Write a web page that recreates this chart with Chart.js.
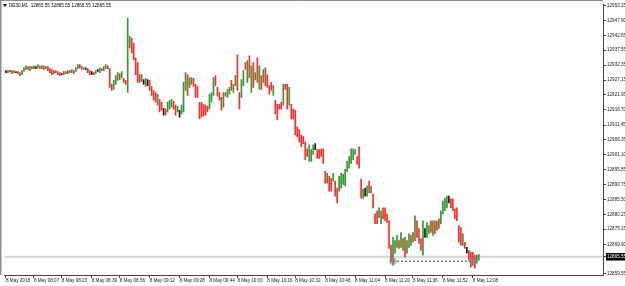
<!DOCTYPE html>
<html><head><meta charset="utf-8">
<script src="https://cdn.jsdelivr.net/npm/chart.js@4/dist/chart.umd.min.js"></script>
<style>html,body{margin:0;padding:0;background:#fff;overflow:hidden}canvas{display:block}</style>
</head><body>
<canvas id="c" width="625" height="286"></canvas>
<script>
const headerText = 'DE30,M1  12865.55 12865.55 12865.55 12865.55';
const bidPrice = 12865.55;

const opens = [
12930.1,12930.2,12930.2,12930.2,12929.9,12929.9,12930.0,12929.5,12929.2,12930.3,
12931.0,12931.6,12930.7,12931.6,12931.3,12931.5,12931.6,12931.9,12931.3,12931.9,
12931.2,12931.6,12930.9,12930.5,12930.2,12929.8,12929.9,12929.5,12929.2,12929.2,
12929.9,12929.6,12930.2,12929.9,12930.2,12930.3,12931.3,12932.3,12931.6,12930.9,
12931.1,12930.9,12930.2,12929.5,12929.6,12929.6,12930.4,12929.9,12931.0,12930.6,
12931.3,12931.9,12930.9,12925.2,12924.2,12925.9,12927.3,12929.0,12928.3,12927.3,
12926.6,12923.2,12938.6,12941.5,12939.6,12934.5,12932.8,12928.7,12926.9,12926.5,
12925.2,12926.3,12926.6,12924.6,12923.2,12922.5,12918.7,12920.1,12919.1,12916.1,
12916.6,12916.3,12917.3,12918.0,12919.4,12918.0,12916.3,12915.4,12915.6,12916.3,
12923.9,12928.7,12924.9,12925.9,12927.3,12925.2,12924.6,12919.1,12919.1,12918.4,
12918.0,12917.7,12917.3,12919.7,12922.2,12928.3,12924.2,12922.5,12920.8,12918.0,
12922.5,12921.5,12922.5,12926.6,12923.2,12925.6,12928.0,12922.5,12921.5,12925.6,
12932.8,12926.6,12935.2,12923.2,12932.8,12927.7,12934.5,12924.2,12928.3,12926.6,
12931.1,12928.7,12924.9,12925.9,12922.2,12919.7,12918.4,12918.4,12919.1,12918.7,
12925.2,12925.2,12918.7,12918.4,12916.6,12916.3,12910.5,12909.4,12907.7,12907.0,
12905.3,12902.9,12899.1,12899.1,12901.5,12903.9,12902.5,12902.5,12902.9,12902.9,
12894.9,12891.6,12893.2,12892.6,12892.2,12891.6,12889.1,12888.8,12889.8,12891.2,
12890.5,12895.6,12896.7,12898.4,12899.8,12901.5,12900.1,12903.5,12892.2,12886.4,
12888.1,12887.0,12891.6,12888.1,12887.0,12880.2,12881.2,12879.5,12877.4,12882.2,
12882.2,12880.2,12877.7,12869.1,12863.0,12867.1,12869.1,12870.9,12869.1,12868.1,
12871.9,12867.1,12869.1,12869.8,12873.6,12871.6,12877.7,12875.0,12871.6,12866.4,
12873.9,12872.6,12874.0,12877.7,12873.3,12877.7,12875.0,12878.5,12877.4,12880.9,
12881.9,12882.9,12885.5,12885.3,12885.3,12881.9,12882.2,12876.1,12875.4,12869.8,
12870.2,12867.8,12867.4,12866.8,12866.8,12865.8,12863.7,12864.7];

const highs = [
12930.4,12930.4,12930.4,12930.4,12930.4,12930.1,12930.1,12929.7,12930.4,12931.4,
12932.1,12931.8,12931.8,12931.8,12932.1,12931.8,12932.5,12932.1,12932.1,12932.1,
12931.8,12931.8,12931.1,12930.8,12930.4,12930.4,12930.1,12929.7,12929.4,12930.1,
12930.1,12930.4,12930.4,12930.8,12930.4,12931.4,12932.5,12932.5,12931.8,12931.4,
12931.4,12931.1,12930.4,12930.1,12929.7,12930.4,12930.8,12931.4,12931.1,12931.8,
12932.5,12932.1,12931.1,12925.6,12927.0,12928.7,12929.7,12929.4,12930.1,12927.7,
12927.0,12948.6,12942.4,12941.8,12940.0,12934.9,12933.2,12929.0,12929.0,12927.3,
12927.7,12927.3,12927.0,12924.9,12923.5,12922.8,12922.2,12920.4,12919.4,12917.3,
12917.0,12919.4,12920.1,12920.4,12919.7,12918.4,12918.0,12916.6,12918.4,12926.3,
12929.7,12929.0,12928.0,12928.0,12927.7,12925.6,12924.9,12919.4,12919.4,12918.7,
12918.4,12918.0,12922.2,12922.8,12928.0,12928.7,12924.6,12922.8,12921.1,12922.8,
12922.8,12923.9,12924.6,12927.0,12925.6,12928.7,12935.9,12922.8,12927.3,12930.4,
12933.2,12933.9,12935.6,12932.1,12933.2,12929.7,12934.9,12932.1,12928.7,12930.8,
12931.4,12929.0,12925.2,12926.3,12925.2,12920.1,12918.7,12918.7,12919.4,12925.6,
12925.6,12925.6,12924.6,12918.7,12917.0,12916.6,12910.8,12909.8,12908.0,12907.4,
12905.6,12903.2,12904.6,12902.9,12904.6,12905.0,12902.9,12902.9,12903.2,12903.2,
12895.3,12894.6,12893.6,12892.9,12894.6,12891.9,12889.5,12893.6,12894.6,12894.3,
12896.0,12898.8,12900.5,12903.2,12903.2,12902.9,12900.5,12903.9,12892.6,12889.1,
12889.5,12890.2,12891.9,12890.2,12887.4,12880.5,12881.6,12882.6,12881.6,12882.6,
12882.6,12880.5,12878.1,12869.5,12872.3,12871.2,12873.0,12871.2,12874.0,12871.9,
12872.3,12871.2,12873.6,12873.0,12874.0,12879.8,12878.1,12875.4,12871.9,12878.1,
12875.4,12877.4,12876.4,12878.1,12878.1,12878.1,12878.1,12878.8,12881.6,12885.0,
12886.0,12886.7,12886.7,12885.7,12885.7,12882.2,12882.6,12876.4,12875.7,12873.6,
12870.6,12868.8,12867.8,12867.1,12867.1,12866.1,12866.1,12866.4];

const lows = [
12929.7,12929.7,12930.1,12929.4,12929.7,12929.7,12929.4,12928.7,12929.0,12930.1,
12930.8,12930.8,12930.4,12931.1,12931.1,12931.1,12931.4,12931.1,12931.1,12930.8,
12931.1,12930.4,12929.7,12929.0,12929.4,12929.7,12929.0,12928.7,12929.0,12929.0,
12929.4,12929.4,12929.7,12929.7,12929.4,12930.1,12931.1,12931.4,12930.8,12930.8,
12930.8,12929.7,12929.0,12929.0,12929.0,12929.4,12930.1,12929.7,12930.4,12930.4,
12931.1,12931.1,12924.6,12923.5,12923.9,12925.6,12927.0,12927.3,12928.0,12926.3,
12925.6,12922.8,12938.3,12936.6,12934.2,12929.0,12926.3,12926.3,12926.6,12925.6,
12924.9,12925.2,12923.5,12921.8,12920.1,12919.4,12918.4,12916.0,12916.6,12914.9,
12914.9,12916.0,12917.0,12917.7,12917.0,12914.9,12916.0,12914.2,12915.3,12916.0,
12923.5,12921.8,12924.6,12925.6,12924.9,12921.1,12921.1,12913.6,12914.2,12914.6,
12914.9,12916.0,12917.0,12919.4,12921.8,12925.2,12921.5,12920.1,12916.6,12917.7,
12921.5,12921.1,12922.2,12923.5,12922.8,12925.2,12923.5,12917.0,12921.1,12925.2,
12930.8,12926.3,12928.0,12922.8,12924.6,12927.3,12926.3,12923.9,12923.9,12926.3,
12925.2,12924.6,12922.2,12923.5,12921.8,12915.3,12913.2,12917.0,12917.0,12918.4,
12923.9,12917.0,12918.4,12913.6,12913.6,12908.0,12907.4,12905.6,12903.9,12905.0,
12899.4,12900.5,12898.8,12898.8,12901.2,12902.9,12899.8,12899.8,12900.5,12898.1,
12891.2,12891.2,12888.4,12888.4,12891.9,12886.7,12884.3,12888.4,12889.5,12890.8,
12890.2,12895.3,12896.4,12898.1,12899.4,12901.2,12897.7,12896.4,12886.0,12886.0,
12886.7,12886.7,12887.8,12887.8,12882.6,12877.1,12877.1,12879.2,12877.1,12878.8,
12878.1,12877.4,12868.5,12863.7,12862.6,12866.8,12868.8,12868.5,12868.8,12867.8,
12865.4,12866.8,12868.8,12869.5,12870.6,12871.2,12872.3,12870.2,12867.8,12866.1,
12872.3,12872.3,12873.6,12874.0,12873.0,12873.6,12874.7,12875.4,12877.1,12880.5,
12881.6,12882.6,12884.3,12882.6,12881.6,12878.8,12878.1,12870.6,12869.5,12869.5,
12868.5,12866.8,12864.4,12861.9,12862.6,12861.6,12863.3,12864.4];

const closes = [
12930.1,12929.9,12930.2,12929.6,12930.3,12929.9,12929.5,12928.9,12930.2,12931.2,
12931.9,12931.0,12931.6,12931.2,12931.9,12931.5,12932.3,12931.3,12931.9,12931.0,
12931.7,12930.6,12929.9,12929.2,12929.6,12930.3,12929.2,12928.9,12929.2,12929.9,
12929.5,12930.2,12929.9,12930.6,12929.6,12931.2,12932.3,12931.6,12931.0,12931.3,
12931.1,12929.9,12929.2,12929.5,12929.1,12930.2,12930.4,12931.2,12930.5,12931.6,
12932.3,12931.3,12924.9,12923.9,12926.6,12928.3,12929.4,12927.7,12929.7,12926.6,
12925.9,12940.0,12942.0,12937.0,12934.6,12929.4,12926.6,12926.6,12928.7,12926.5,
12927.3,12926.3,12923.9,12922.2,12920.4,12919.7,12921.8,12916.3,12916.9,12916.1,
12915.2,12919.1,12919.7,12920.1,12917.3,12915.2,12917.7,12915.4,12918.0,12925.9,
12929.4,12922.2,12927.7,12927.7,12925.2,12921.5,12921.5,12914.0,12914.6,12914.9,
12915.3,12916.3,12921.8,12922.5,12927.7,12925.6,12921.8,12920.4,12917.0,12922.5,
12921.8,12923.5,12924.2,12923.9,12925.2,12928.3,12923.9,12917.3,12927.0,12930.1,
12931.1,12933.5,12928.3,12931.8,12924.9,12929.4,12926.6,12931.8,12924.2,12930.4,
12925.6,12924.9,12922.5,12923.9,12924.9,12915.6,12913.6,12917.3,12917.3,12925.2,
12924.2,12917.3,12924.2,12914.0,12914.0,12908.4,12907.7,12906.0,12904.2,12905.3,
12899.8,12900.8,12904.2,12902.5,12904.2,12903.9,12900.1,12900.1,12900.8,12898.4,
12891.6,12894.3,12888.8,12888.8,12894.3,12887.0,12884.6,12893.2,12894.3,12893.9,
12895.6,12898.4,12900.1,12902.9,12902.9,12902.5,12898.1,12896.7,12886.4,12888.8,
12888.1,12889.8,12888.1,12889.8,12882.9,12877.4,12877.4,12882.2,12881.2,12879.2,
12878.5,12877.7,12868.8,12864.0,12871.9,12870.9,12872.6,12868.8,12873.6,12871.6,
12865.7,12870.9,12873.3,12872.6,12870.9,12879.5,12872.6,12870.6,12868.1,12877.7,
12873.9,12877.1,12876.1,12874.3,12877.7,12874.0,12877.7,12875.7,12881.2,12884.6,
12885.7,12886.4,12885.5,12882.9,12881.9,12879.2,12878.5,12870.9,12869.8,12873.3,
12868.8,12867.8,12864.7,12862.3,12863.0,12862.0,12865.8,12865.55];

const xTickLabels = ['8 May 2018','8 May 08:07','8 May 08:23','8 May 08:39','8 May 08:56','8 May 09:12',
 '8 May 09:28','8 May 09:44','8 May 10:00','8 May 10:16','8 May 10:32','8 May 10:48','8 May 11:04',
 '8 May 11:20','8 May 11:36','8 May 11:52','8 May 12:08'];
const xTickBars = [0,14,28,43,57,72,87,102,116,131,145,160,175,190,204,219,234];

const yTickValues = [12953.15,12947.90,12942.65,12937.55,12932.35,12927.15,12921.95,12916.70,12911.45,
 12906.35,12901.10,12895.85,12890.75,12885.50,12880.25,12875.15,12869.90,12865.55,12859.55];
const yTickLabels = ['12953.15','12947.90','12942.65','12937.55','12932.35','12927.15','12921.95','12916.70','12911.45',
 '12906.35','12901.10','12895.85','12890.75','12885.50','12880.25','12875.15','12869.90','12865.55','12859.55'];

const tradeBars = [194, 234];
const tradePrice = 12864.0;

const UP = '#2f9a2f', DOWN = '#ff2a2a', FLAT = '#1a1a1a';
const X_MIN = -0.75, X_MAX = 299.25, Y_MIN = 12859.2, Y_MAX = 12953.46;

const bars = highs.map((h, i) => ({x: i, y: [lows[i], h]}));
const barColors = opens.map((o, i) => closes[i] > o ? UP : (closes[i] < o ? DOWN : FLAT));

const frame = {
  id: 'frame',
  beforeDraw(chart) {
    const c = chart.ctx; c.save(); c.fillStyle = '#fff'; c.fillRect(0, 0, chart.width, chart.height); c.restore();
  },
  afterDraw(chart) {
    const c = chart.ctx, a = chart.chartArea;
    c.save();
    c.strokeStyle = '#8c8c8c'; c.lineWidth = 1;
    c.beginPath(); c.moveTo(0, 0.5); c.lineTo(a.right, 0.5); c.moveTo(0.5, 0); c.lineTo(0.5, a.bottom); c.stroke();
    c.strokeStyle = '#c8c8c8';
    c.beginPath(); c.moveTo(1.5, 1); c.lineTo(1.5, a.bottom); c.stroke();
    c.fillStyle = '#000';
    c.beginPath(); c.moveTo(3, 4); c.lineTo(7, 4); c.lineTo(5, 7); c.closePath(); c.fill();
    c.font = '4.6px "Liberation Sans"'; c.textBaseline = 'middle'; c.textAlign = 'left';
    c.fillText(headerText, 9, 6);
    c.restore();
  }
};

new Chart(document.getElementById('c'), {
  type: 'bar',
  data: { datasets: [
    { type: 'line', data: [{x: X_MIN, y: bidPrice}, {x: X_MAX, y: bidPrice}], borderColor: '#d6d6d6', borderWidth: 2, pointRadius: 0, order: 3 },
    { type: 'bar', data: bars, backgroundColor: barColors, barThickness: 1, minBarLength: 1, borderWidth: 0, grouped: false, order: 2 },
    { type: 'line', data: tradeBars.map(i => ({x: i, y: tradePrice})), borderColor: '#2a2aff', borderWidth: 1, borderDash: [2, 2],
      pointRadius: 3.5, pointBackgroundColor: 'rgba(140,140,140,0.55)', pointBorderColor: 'rgba(110,110,110,0.6)', pointBorderWidth: 0.5, order: 1 }
  ]},
  options: {
    responsive: false, animation: false, events: [],
    layout: { padding: { left: 3, top: 1, right: 0, bottom: 0 } },
    plugins: { legend: { display: false }, tooltip: { enabled: false } },
    scales: {
      x: {
        type: 'linear', min: X_MIN, max: X_MAX, offset: false,
        afterBuildTicks(s) { s.ticks = xTickBars.map(v => ({value: v})); },
        afterFit(s) { s.height = 11; s.paddingLeft = 0; s.paddingRight = 0; },
        ticks: { autoSkip: false, maxRotation: 0, minRotation: 0, align: 'start', padding: 0, color: '#222',
          font: { family: 'Liberation Sans', size: 4.6 }, callback: (v, i) => xTickLabels[i] },
        grid: { drawOnChartArea: false, drawTicks: true, tickLength: 3, color: '#444', offset: false },
        border: { display: true, color: '#444', width: 1 }
      },
      y: {
        type: 'linear', position: 'right', min: Y_MIN, max: Y_MAX,
        afterBuildTicks(s) { s.ticks = yTickValues.map(v => ({value: v})); },
        afterFit(s) { s.width = 22; s.paddingTop = 0; s.paddingBottom = 0; },
        ticks: { autoSkip: false, padding: 1,
          color: c => (c.tick && c.tick.value === bidPrice) ? '#fff' : '#222',
          showLabelBackdrop: true,
          backdropColor: c => (c.tick && c.tick.value === bidPrice) ? '#000' : 'rgba(0,0,0,0)',
          backdropPadding: { left: 1, right: 2, top: 1, bottom: 1 },
          font: { family: 'Liberation Sans', size: 4.6 }, callback: (v, i) => yTickLabels[i] },
        grid: { drawOnChartArea: false, drawTicks: true, tickLength: 3, color: '#444' },
        border: { display: true, color: '#444', width: 1 }
      }
    }
  },
  plugins: [frame]
});
</script>
</body></html>
